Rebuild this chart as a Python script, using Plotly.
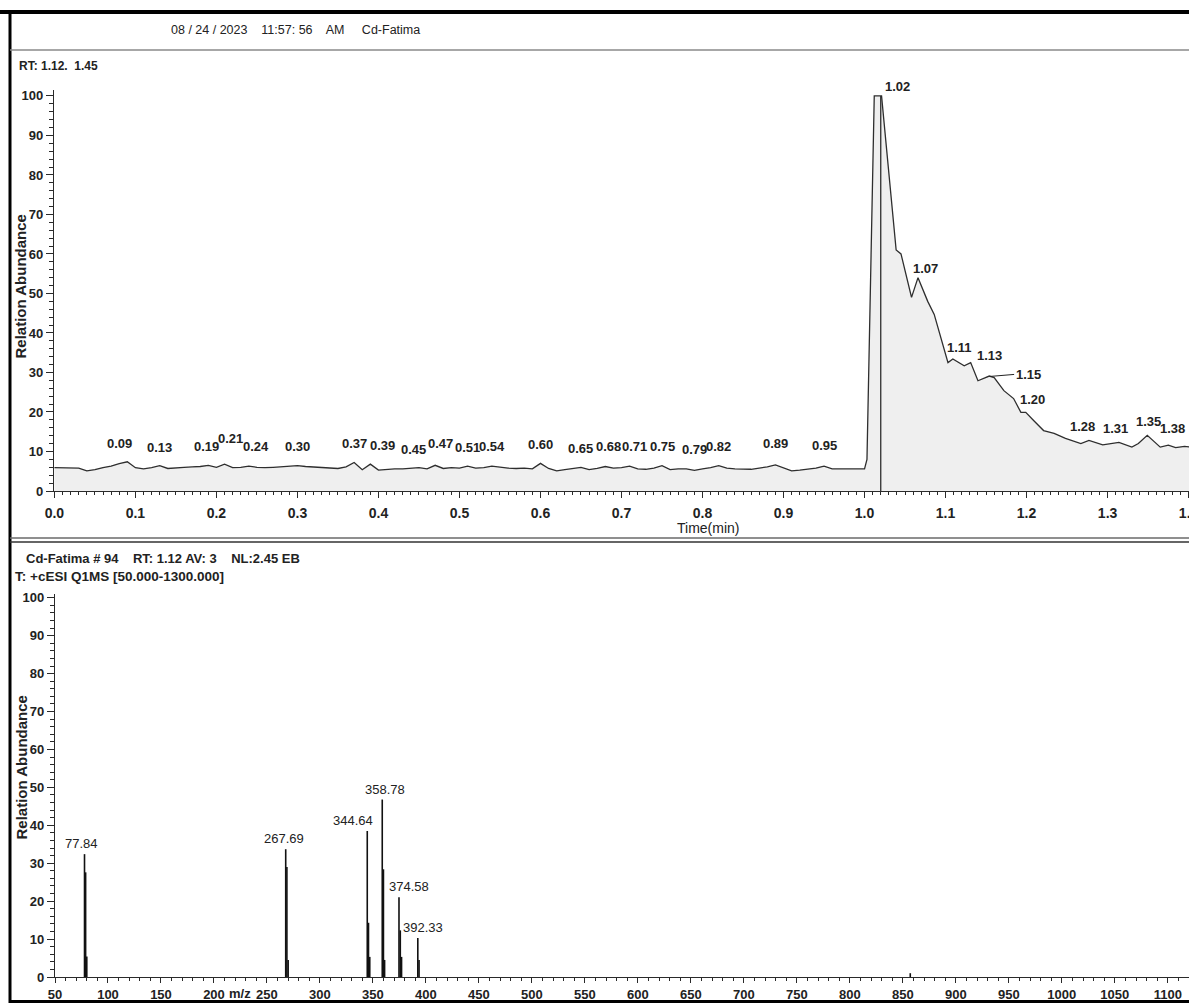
import plotly.graph_objects as go

# ---------------- data ----------------
header_text = "08 / 24 / 2023    11:57: 56    AM     Cd-Fatima"
rt_text = "RT: 1.12.  1.45"
spec_header = "Cd-Fatima # 94    RT: 1.12 AV: 3    NL:2.45 EB"
spec_filter = "T: +cESI Q1MS [50.000-1300.000]"
y_title = "Relation Abundance"
x_title_top = "Time(min)"
x_title_bottom = "m/z"

# chromatogram (time in min, relative abundance)
chrom_time = [
    0.00, 0.01, 0.02, 0.03, 0.04, 0.05, 0.06, 0.07, 0.08, 0.09,
    0.10, 0.11, 0.12, 0.13, 0.14, 0.15, 0.16, 0.17, 0.18, 0.19,
    0.20, 0.21, 0.22, 0.23, 0.24, 0.25, 0.26, 0.27, 0.28, 0.29,
    0.30, 0.31, 0.32, 0.33, 0.34, 0.35, 0.36, 0.37, 0.38, 0.39,
    0.40, 0.41, 0.42, 0.43, 0.44, 0.45, 0.46, 0.47, 0.48, 0.49,
    0.50, 0.51, 0.52, 0.53, 0.54, 0.55, 0.56, 0.57, 0.58, 0.59,
    0.60, 0.61, 0.62, 0.63, 0.64, 0.65, 0.66, 0.67, 0.68, 0.69,
    0.70, 0.71, 0.72, 0.73, 0.74, 0.75, 0.76, 0.77, 0.78, 0.79,
    0.80, 0.81, 0.82, 0.83, 0.84, 0.85, 0.86, 0.87, 0.88, 0.89,
    0.90, 0.91, 0.92, 0.93, 0.94, 0.95, 0.96, 0.97, 0.98, 0.99,
    1.000, 1.003, 1.012, 1.021, 1.039, 1.045, 1.058, 1.066, 1.078, 1.086,
    1.103, 1.109, 1.123, 1.131, 1.140, 1.154, 1.160, 1.172, 1.184, 1.193,
    1.199, 1.209, 1.221, 1.234, 1.248, 1.267, 1.277, 1.294, 1.306, 1.314,
    1.330, 1.338, 1.349, 1.365, 1.375, 1.384, 1.395, 1.410,
]
chrom_abund = [
    5.9, 5.9, 5.9, 5.8, 5.1, 5.4, 5.9, 6.3, 6.9, 7.4,
    5.9, 5.6, 5.9, 6.4, 5.7, 5.9, 6.0, 6.1, 6.2, 6.5,
    6.0, 6.8, 5.9, 6.0, 6.3, 6.0, 5.9, 6.0, 6.1, 6.2,
    6.4, 6.2, 6.1, 6.0, 5.8, 5.7, 6.1, 7.2, 5.4, 6.8,
    5.3, 5.5, 5.6, 5.6, 5.7, 5.9, 5.6, 6.5, 5.7, 5.9,
    5.8, 6.3, 5.8, 5.9, 6.3, 6.0, 5.8, 5.7, 5.8, 5.6,
    7.0, 5.7, 5.1, 5.4, 5.7, 6.0, 5.4, 5.7, 6.2, 5.8,
    5.9, 6.3, 5.6, 5.5, 5.8, 6.4, 5.4, 5.6, 5.6, 5.2,
    5.6, 5.9, 6.4, 5.8, 5.6, 5.5, 5.5, 5.8, 6.1, 6.6,
    5.8, 5.1, 5.3, 5.6, 5.8, 6.3, 5.6, 5.6, 5.6, 5.6,
    5.6, 8.0, 100.0, 100.0, 61.0, 60.0, 49.0, 54.0, 48.0, 44.7,
    32.5, 33.4, 31.7, 32.5, 27.9, 29.1, 28.7, 25.4, 23.4, 19.9,
    19.9, 17.8, 15.3, 14.6, 13.3, 12.0, 12.8, 11.7, 12.0, 12.3,
    11.1, 12.0, 14.1, 11.1, 11.6, 11.0, 11.3, 11.0,
]
marker_rt = 1.02  # vertical marker line

# peak labels of the chromatogram and the level (abundance) where each label sits
chrom_labels = ["0.09", "0.13", "0.19", "0.21", "0.24", "0.30", "0.37", "0.39",
                "0.45", "0.47", "0.51", "0.54", "0.60", "0.65", "0.68", "0.71",
                "0.75", "0.79", "0.82", "0.89", "0.95", "1.02", "1.07", "1.11",
                "1.13", "1.15", "1.20", "1.28", "1.31", "1.35", "1.38"]
chrom_label_level = [9.6, 8.6, 8.8, 11.0, 8.8, 8.8, 9.6, 9.2,
                     8.0, 9.6, 8.6, 8.8, 9.4, 8.4, 8.8, 8.8,
                     8.8, 8.0, 8.8, 9.6, 9.2, 100.0, 54.0, 34.0,
                     32.0, 28.8, 20.8, 13.8, 13.3, 15.3, 13.3]

# mass spectrum (m/z, relative abundance)
spec_mz = [77.84, 78.9, 80.0, 267.69, 268.8, 270.0, 344.64, 345.8, 347.0,
           358.78, 359.9, 361.0, 374.58, 375.8, 377.0, 392.33, 393.5, 857.0]
spec_int = [32.4, 27.6, 5.4, 33.7, 29.0, 4.5, 38.5, 14.3, 5.3,
            46.8, 28.4, 4.5, 21.0, 12.3, 5.3, 10.3, 4.5, 1.0]
spec_labels = ["77.84", "267.69", "344.64", "358.78", "374.58", "392.33"]
spec_label_mz = [77.84, 267.69, 344.64, 358.78, 374.58, 392.33]
spec_label_int = [32.4, 33.7, 38.5, 46.8, 21.0, 10.3]

top_ticks = [0.0, 0.1, 0.2, 0.3, 0.4, 0.5, 0.6, 0.7, 0.8, 0.9, 1.0, 1.1, 1.2, 1.3, 1.4]
bottom_ticks = [50, 100, 150, 200, 250, 300, 350, 400, 450, 500, 550, 600, 650,
                700, 750, 800, 850, 900, 950, 1000, 1050, 1100]
y_ticks = [0, 10, 20, 30, 40, 50, 60, 70, 80, 90, 100]

# ---------------- styling helpers ----------------
W, H = 1189, 1003
FONT = "Liberation Sans, Arial, sans-serif"
INK = "#222222"
AX = "#2a2a2a"


def px(x):
    return x / W


def py(y):
    return 1 - y / H


# label nudges (pixels) so neighbouring labels sit side by side as in the original
label_xshift = {"0.09": -8, "0.19": -2, "0.21": 6, "0.24": 7, "0.39": 12, "0.45": -5,
                "0.47": 5, "0.68": 3, "0.71": 5, "1.02": 2, "1.07": 4, "1.11": 6,
                "1.13": 20, "1.28": -9, "1.20": 6}
spec_label_xshift = {"77.84": -3, "267.69": -2, "344.64": -14, "358.78": 3,
                     "374.58": 10, "392.33": 5}

fig = go.Figure()

# chromatogram trace
fig.add_trace(go.Scatter(
    x=chrom_time, y=chrom_abund, mode="lines",
    line=dict(color="#2e2e2e", width=1.3),
    fill="tozeroy", fillcolor="#efefef",
    xaxis="x", yaxis="y", hoverinfo="skip", showlegend=False, cliponaxis=False))

# vertical marker
fig.add_trace(go.Scatter(
    x=[marker_rt, marker_rt], y=[0, max(chrom_abund)], mode="lines",
    line=dict(color="#2e2e2e", width=1.3),
    xaxis="x", yaxis="y", hoverinfo="skip", showlegend=False))

# spectrum sticks
sx, sy = [], []
for m, v in zip(spec_mz, spec_int):
    sx += [m, m, None]
    sy += [0, v, None]
fig.add_trace(go.Scatter(
    x=sx, y=sy, mode="lines", line=dict(color="#111111", width=1.6),
    xaxis="x2", yaxis="y2", hoverinfo="skip", showlegend=False))

annotations = []
# chromatogram peak labels
for lab, lev in zip(chrom_labels, chrom_label_level):
    t = float(lab)
    a = dict(x=t, y=lev, xref="x", yref="y", text=lab, showarrow=False,
             yanchor="bottom", xanchor="center",
             xshift=label_xshift.get(lab, 0),
             font=dict(family=FONT, size=13, color=INK, weight="bold"))
    if lab == "1.02":
        a["xanchor"] = "left"
    if lab == "1.15":
        a.update(showarrow=True, x=t + 0.005, y=lev + 0.2, ax=24, ay=-2,
                 arrowhead=0, arrowwidth=1, arrowcolor=INK, standoff=0,
                 xanchor="left", yanchor="middle")
    annotations.append(a)

# spectrum labels
for lab, m, v in zip(spec_labels, spec_label_mz, spec_label_int):
    annotations.append(dict(x=m, y=v, xref="x2", yref="y2", text=lab, showarrow=False,
                            yanchor="bottom", xanchor="center", yshift=1,
                            xshift=spec_label_xshift.get(lab, 0),
                            font=dict(family=FONT, size=13, color=INK)))

# texts
annotations += [
    dict(x=px(295), y=py(30), xref="paper", yref="paper", text=header_text, showarrow=False,
         xanchor="center", yanchor="middle", font=dict(family=FONT, size=12.5, color=INK)),
    dict(x=px(17), y=py(66), xref="paper", yref="paper", text=rt_text, showarrow=False,
         xanchor="left", yanchor="middle", font=dict(family=FONT, size=12, color=INK, weight="bold")),
    dict(x=px(24), y=py(558), xref="paper", yref="paper", text=spec_header, showarrow=False,
         xanchor="left", yanchor="middle", font=dict(family=FONT, size=13, color=INK, weight="bold")),
    dict(x=px(13), y=py(576), xref="paper", yref="paper", text=spec_filter, showarrow=False,
         xanchor="left", yanchor="middle", font=dict(family=FONT, size=13.5, color=INK, weight="bold")),
    dict(x=px(20.5), y=py(287), xref="paper", yref="paper", text=y_title, showarrow=False,
         textangle=-90, xanchor="center", yanchor="middle",
         font=dict(family=FONT, size=15, color=INK, weight="bold")),
    dict(x=px(20.5), y=py(768), xref="paper", yref="paper", text=y_title, showarrow=False,
         textangle=-90, xanchor="center", yanchor="middle",
         font=dict(family=FONT, size=15, color=INK, weight="bold")),
    dict(x=px(708), y=py(528), xref="paper", yref="paper", text=x_title_top, showarrow=False,
         xanchor="center", yanchor="middle", font=dict(family=FONT, size=14, color=INK)),
    dict(x=px(240), y=py(993), xref="paper", yref="paper", text=x_title_bottom, showarrow=False,
         xanchor="center", yanchor="middle", font=dict(family=FONT, size=13, color=INK, weight="bold")),
]

shapes = [
    # outer frame
    dict(type="line", xref="paper", yref="paper", x0=0, x1=1, y0=py(12), y1=py(12),
         line=dict(color="#000000", width=4)),
    dict(type="line", xref="paper", yref="paper", x0=px(10), x1=px(10), y0=py(10), y1=0,
         line=dict(color="#000000", width=3)),
    dict(type="line", xref="paper", yref="paper", x0=px(9), x1=1, y0=py(1001.5), y1=py(1001.5),
         line=dict(color="#000000", width=3)),
    # header underline
    dict(type="line", xref="paper", yref="paper", x0=px(10), x1=1, y0=py(50), y1=py(50),
         line=dict(color="#8a8a8a", width=1.5)),
    # separator between panels
    dict(type="line", xref="paper", yref="paper", x0=px(10), x1=1, y0=py(538), y1=py(538),
         line=dict(color="#6a6a6a", width=1.5)),
    dict(type="line", xref="paper", yref="paper", x0=px(10), x1=1, y0=py(542), y1=py(542),
         line=dict(color="#333333", width=1.5)),
]

axis_common = dict(showgrid=False, zeroline=False, showline=True, linecolor=AX,
                   linewidth=1.3, ticks="outside", tickcolor=AX, tickwidth=1,
                   fixedrange=True, automargin=False)

fig.update_layout(
    template="none",
    width=W, height=H,
    margin=dict(l=0, r=0, t=0, b=0, pad=0, autoexpand=False),
    paper_bgcolor="white", plot_bgcolor="white",
    showlegend=False,
    xaxis=dict(domain=[px(54), 1.0], range=[-0.0005, 1.4005], anchor="y",
               tickmode="array", tickvals=top_ticks, ticktext=[f"{v:.1f}" for v in top_ticks],
               ticklen=6, ticklabelstandoff=3, ticklabeloverflow="allow",
               minor=dict(dtick=0.01, tick0=0, ticks="outside", ticklen=3, tickcolor=AX),
               tickfont=dict(family=FONT, size=14, color=INK, weight="bold"),
               **axis_common),
    yaxis=dict(domain=[py(491), py(90)], range=[0, 101.5], anchor="x",
               tickmode="array", tickvals=y_ticks, ticklen=7,
               minor=dict(dtick=2, tick0=0, ticks="outside", ticklen=4, tickcolor=AX),
               tickfont=dict(family=FONT, size=13, color=INK, weight="bold"),
               **axis_common),
    xaxis2=dict(domain=[px(55), 1.0], range=[50, 1120], anchor="y2",
                tickmode="array", tickvals=bottom_ticks, ticklen=5, ticklabeloverflow="allow",
                minor=dict(dtick=10, tick0=50, ticks="outside", ticklen=3, tickcolor=AX),
                tickfont=dict(family=FONT, size=13, color=INK, weight="bold"),
                **axis_common),
    yaxis2=dict(domain=[py(977), py(594)], range=[0, 101], anchor="x2",
                tickmode="array", tickvals=y_ticks, ticklen=7,
                minor=dict(dtick=2, tick0=0, ticks="outside", ticklen=4, tickcolor=AX),
                tickfont=dict(family=FONT, size=13, color=INK, weight="bold"),
                **axis_common),
    annotations=annotations,
    shapes=shapes,
)

fig.write_html("out.html", config={"displayModeBar": False})
